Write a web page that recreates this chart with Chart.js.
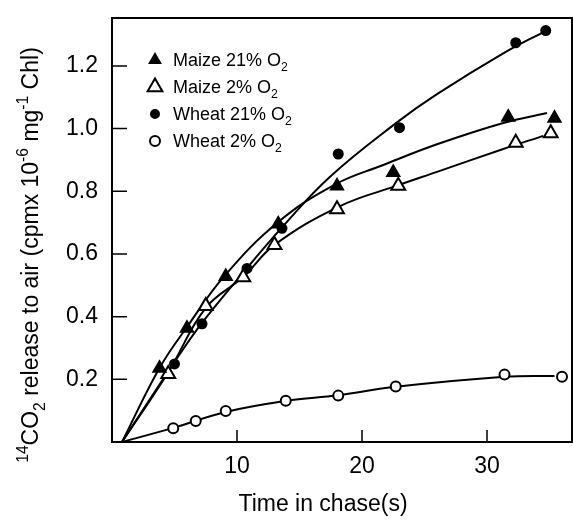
<!DOCTYPE html>
<html>
<head>
<meta charset="utf-8">
<script src="https://cdn.jsdelivr.net/npm/chart.js@4.4.1/dist/chart.umd.min.js"></script>
<style>
  html, body { margin: 0; padding: 0; background: #fff; }
  #wrap { width: 573px; height: 520px; position: relative; }
</style>
</head>
<body>
<div id="wrap"><canvas id="chaseChart"></canvas></div>
<script>
// measured points (time in chase, s / 14CO2 released)
const maize21X = [3.8, 6.0, 9.1, 13.3, 18.0, 22.5, 31.7, 35.4];
const maize21Y = [0.235, 0.363, 0.528, 0.696, 0.817, 0.860, 1.036, 1.033];
const maize2X = [4.5, 7.5, 10.5, 13.0, 18.0, 22.9, 32.3, 35.1];
const maize2Y = [0.217, 0.434, 0.526, 0.629, 0.743, 0.818, 0.955, 0.985];
const wheat21X = [5.0, 7.2, 10.8, 13.6, 18.1, 23.0, 32.3, 34.7];
const wheat21Y = [0.249, 0.377, 0.554, 0.682, 0.919, 1.003, 1.274, 1.313];
const wheat2X = [4.9, 6.7, 9.1, 13.9, 18.1, 22.7, 31.4, 36.0];
const wheat2Y = [0.044, 0.067, 0.099, 0.132, 0.148, 0.177, 0.215, 0.208];

// fitted curves
const maize21FitX = [0.8, 3.8, 6.0, 9.0, 13.3, 17.9, 21.7, 26.0, 31.3, 34.8];
const maize21FitY = [0, 0.236, 0.367, 0.530, 0.702, 0.823, 0.884, 0.950, 1.018, 1.050];
const maize2FitX = [0.8, 4.5, 7.5, 10.5, 13.0, 18.2, 22.8, 26.0, 31.3, 34.5];
const maize2FitY = [0, 0.223, 0.428, 0.527, 0.629, 0.752, 0.818, 0.862, 0.935, 0.977];
const wheat21FitX = [0.8, 5.0, 7.2, 10.8, 13.6, 17.4, 22.8, 26.0, 31.3, 34.7];
const wheat21FitY = [0, 0.255, 0.380, 0.555, 0.685, 0.845, 1.020, 1.110, 1.240, 1.312];
const wheat2FitX = [0.8, 4.9, 9.1, 13.9, 18.1, 22.7, 31.4, 35.4];
const wheat2FitY = [0, 0.045, 0.096, 0.131, 0.149, 0.176, 0.208, 0.211];

const xTicks = [10, 20, 30];
const yTicks = [0.2, 0.4, 0.6, 0.8, 1.0, 1.2];

const FONT = '"Liberation Sans", Arial, Helvetica, sans-serif';

function toPts(xs, ys) {
  return xs.map((x, i) => ({ x: x, y: ys[i] }));
}

// marker styles, also used by the legend
const markers = [
  { label: [['Maize 21% O'], ['2', 'sub']], style: 'triangle', r: 7, fill: '#000', legendR: 6 },
  { label: [['Maize 2% O'], ['2', 'sub']], style: 'triangle', r: 8, fill: '#fff', legendR: 8.5 },
  { label: [['Wheat 21% O'], ['2', 'sub']], style: 'circle', r: 4.5, fill: '#000', legendR: 4 },
  { label: [['Wheat 2% O'], ['2', 'sub']], style: 'circle', r: 5, fill: '#fff', legendR: 5 }
];

// draw text made of normal / sup / sub pieces
function richWidth(ctx, parts, size) {
  let w = 0;
  parts.forEach(p => {
    const s = p[1] ? size * 0.68 : size;
    ctx.font = s + 'px ' + FONT;
    w += ctx.measureText(p[0]).width;
  });
  return w;
}
function drawRich(ctx, parts, x, y, size, align) {
  let cx = x;
  const w = richWidth(ctx, parts, size);
  if (align === 'center') cx = x - w / 2;
  ctx.textBaseline = 'alphabetic';
  ctx.textAlign = 'left';
  parts.forEach(p => {
    let s = size, dy = 0;
    if (p[1] === 'sup') { s = size * 0.68; dy = -size * 0.42; }
    if (p[1] === 'sub') { s = size * 0.68; dy = size * 0.3; }
    ctx.font = s + 'px ' + FONT;
    ctx.fillText(p[0], cx, y + dy);
    cx += ctx.measureText(p[0]).width;
  });
}

const framePlugin = {
  id: 'frame',
  afterDraw(chart) {
    const ctx = chart.ctx;
    const a = chart.chartArea;
    const xs = chart.scales.x, ys = chart.scales.y;
    ctx.save();
    ctx.strokeStyle = '#000';
    ctx.lineWidth = 2;
    ctx.strokeRect(a.left, a.top, a.right - a.left, a.bottom - a.top);
    // inward tick marks
    ctx.lineWidth = 1.5;
    ctx.beginPath();
    yTicks.forEach(v => {
      const py = ys.getPixelForValue(v);
      ctx.moveTo(a.left, py);
      ctx.lineTo(a.left + 15, py);
    });
    xTicks.forEach(v => {
      const px = xs.getPixelForValue(v);
      ctx.moveTo(px, a.bottom);
      ctx.lineTo(px, a.bottom - 12);
    });
    ctx.stroke();

    ctx.fillStyle = '#000';
    // x axis title
    drawRich(ctx, [['Time in chase(s)']], 323, 511, 23, 'center');
    // y axis title
    ctx.save();
    ctx.translate(38, 255);
    ctx.rotate(-Math.PI / 2);
    drawRich(ctx, [
      ['14', 'sup'], ['CO'], ['2', 'sub'], [' release to air (cpmx 10'], ['-6', 'sup'],
      [' mg'], ['-1', 'sup'], [' Chl)']
    ], 0, 0, 23, 'center');
    ctx.restore();

    // legend
    markers.forEach((m, i) => {
      const ly = 60 + i * 27;
      ctx.lineWidth = 2;
      ctx.strokeStyle = '#000';
      ctx.fillStyle = m.fill;
      Chart.helpers.drawPoint(ctx, { pointStyle: m.style, radius: m.legendR, borderWidth: 2 }, 155, ly);
      ctx.fillStyle = '#000';
      drawRich(ctx, m.label, 173, ly + 6, 18, 'left');
    });
    ctx.restore();
  }
};

const pointSets = [
  [maize21X, maize21Y], [maize2X, maize2Y], [wheat21X, wheat21Y], [wheat2X, wheat2Y]
];
const fitSets = [
  [maize21FitX, maize21FitY], [maize2FitX, maize2FitY], [wheat21FitX, wheat21FitY], [wheat2FitX, wheat2FitY]
];

const datasets = [];
pointSets.forEach((s, i) => {
  const m = markers[i];
  datasets.push({
    data: toPts(s[0], s[1]),
    showLine: false,
    pointStyle: m.style,
    pointRadius: m.r,
    pointBackgroundColor: m.fill,
    pointBorderColor: '#000',
    pointBorderWidth: 2,
    order: 0
  });
});
fitSets.forEach(s => {
  datasets.push({
    data: toPts(s[0], s[1]),
    showLine: true,
    borderColor: '#000',
    borderWidth: 2,
    pointRadius: 0,
    tension: 0.4,
    order: 1
  });
});

new Chart(document.getElementById('chaseChart').getContext('2d'), {
  type: 'scatter',
  data: { datasets: datasets },
  options: {
    responsive: true,
    maintainAspectRatio: false,
    animation: false,
    layout: { autoPadding: false, padding: { top: 18, right: 1, left: 0, bottom: 0 } },
    plugins: {
      legend: { display: false },
      tooltip: { enabled: false }
    },
    scales: {
      x: {
        type: 'linear',
        min: 0,
        max: 36.8,
        afterFit: s => { s.height = 78; s.paddingLeft = 0; s.paddingRight = 0; },
        grid: { display: true, drawOnChartArea: false, drawTicks: false },
        border: { display: false },
        ticks: {
          stepSize: 10,
          includeBounds: false,
          padding: 11,
          color: '#000',
          font: { family: FONT, size: 23 },
          callback: v => (xTicks.includes(v) ? String(v) : '')
        }
      },
      y: {
        type: 'linear',
        min: 0,
        max: 1.353,
        afterFit: s => { s.width = 112; s.paddingTop = 0; s.paddingBottom = 0; },
        grid: { display: true, drawOnChartArea: false, drawTicks: false },
        border: { display: false },
        ticks: {
          stepSize: 0.2,
          includeBounds: false,
          padding: 14,
          color: '#000',
          font: { family: FONT, size: 23 },
          callback: v => (v > 0.05 && v < 1.3 ? v.toFixed(1) : '')
        }
      }
    }
  },
  plugins: [framePlugin]
});
</script>
</body>
</html>
